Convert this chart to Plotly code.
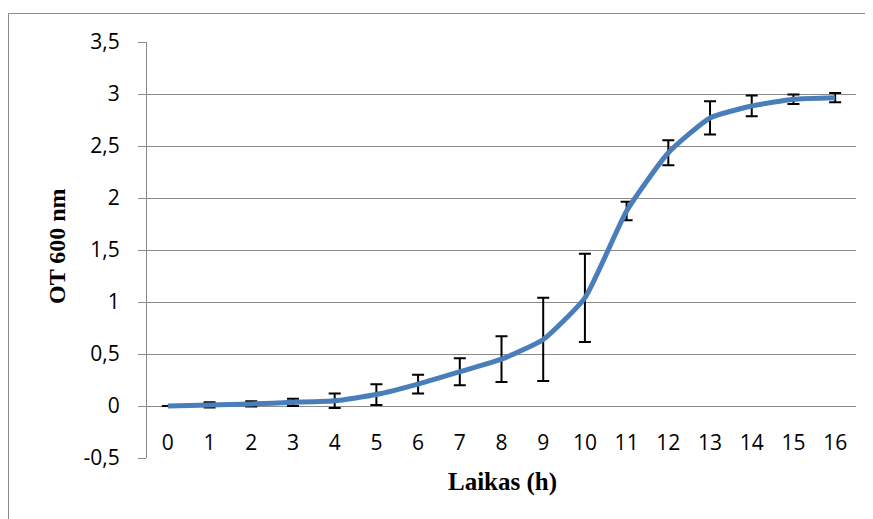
import plotly.graph_objects as go

hours = list(range(17))
od600 = [0.0, 0.01, 0.02, 0.035, 0.05, 0.11, 0.21, 0.33, 0.45, 0.64, 1.04,
         1.875, 2.435, 2.77, 2.885, 2.95, 2.965]
od_err = [0.0, 0.025, 0.025, 0.035, 0.07, 0.10, 0.09, 0.13, 0.22, 0.40, 0.425,
          0.09, 0.12, 0.16, 0.10, 0.045, 0.045]
y_tickvals = [-0.5, 0, 0.5, 1, 1.5, 2, 2.5, 3, 3.5]
y_ticktext = ["-0,5", "0", "0,5", "1", "1,5", "2", "2,5", "3", "3,5"]
x_ticktext = [str(h) for h in hours]

# page body has an 8px margin; figure is sized to fit the window
OFF = 8
W, H = 873 - OFF, 519 - OFF
ML, MR, MT, MB = 139, 17, 34, 61
pw, ph = W - ML - MR, H - MT - MB

def px2paper(px, py):
    # px, py are screenshot coordinates
    return (px - OFF - ML) / pw, (H - MB - (py - OFF)) / ph

GRID = "#8a8a8a"

fig = go.Figure()
# error bars (beneath line)
fig.add_trace(go.Scatter(
    x=hours, y=od600, mode="markers",
    marker=dict(size=1, color="rgba(0,0,0,0)"),
    error_y=dict(type="data", array=od_err, visible=True,
                 color="black", thickness=2, width=6),
    showlegend=False, hoverinfo="skip"))
fig.add_trace(go.Scatter(
    x=hours, y=od600, mode="lines",
    line=dict(color="#4A7EBB", width=5, shape="spline", smoothing=0.5),
    showlegend=False))

y0_pos = (0 - (-0.5)) / 4.0

fig.update_layout(
    width=W, height=H,
    margin=dict(l=ML, r=MR, t=MT, b=MB, pad=0),
    paper_bgcolor="white", plot_bgcolor="white",
    showlegend=False,
    xaxis=dict(
        range=[-0.5, 16.5], tickmode="array", tickvals=hours, ticktext=x_ticktext,
        showgrid=False, zeroline=False, showline=False, ticks="",
        anchor="free", position=y0_pos, ticklabelstandoff=22,
        tickfont=dict(family="Open Sans", size=21, color="black"),
    ),
    yaxis=dict(
        range=[-0.5, 3.5], tickmode="array", tickvals=y_tickvals, ticktext=y_ticktext,
        showgrid=True, gridcolor=GRID, gridwidth=1,
        zeroline=False, showline=True, linecolor=GRID, linewidth=1,
        ticks="outside", ticklen=8, tickcolor=GRID, tickwidth=1,
        ticklabelstandoff=14,
        tickfont=dict(family="Open Sans", size=21, color="black"),
    ),
)

# axis titles
tx, ty = px2paper(502, 482)
fig.add_annotation(text="<b>Laikas (h)</b>", x=tx, y=ty, xref="paper", yref="paper",
                   showarrow=False, xanchor="center", yanchor="middle",
                   font=dict(family="Liberation Serif", size=25, color="black"))
tx, ty = px2paper(57, 246)
fig.add_annotation(text="<b>OT 600 nm</b>", x=tx, y=ty, xref="paper", yref="paper",
                   showarrow=False, xanchor="center", yanchor="middle", textangle=-90,
                   font=dict(family="Liberation Serif", size=24, color="black"))

# outer chart border
bx0, by1 = px2paper(8.5, 13.5)
bx1, by0 = px2paper(890, 540)
fig.add_shape(type="rect", xref="paper", yref="paper", x0=bx0, y0=by0, x1=bx1, y1=by1,
              line=dict(color=GRID, width=1), layer="below")

fig.write_html("out.html")
